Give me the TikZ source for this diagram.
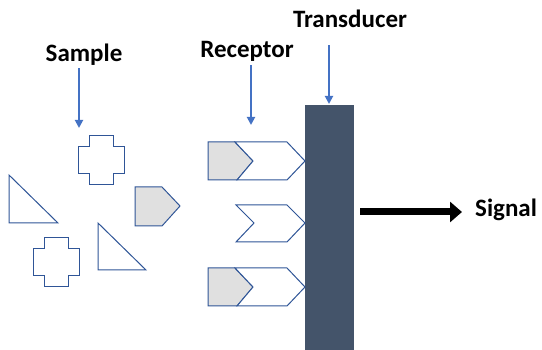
\documentclass[tikz,border=0pt]{standalone}
\usepackage{fontspec}
\setmainfont{Carlito}
\usetikzlibrary{arrows.meta}

\definecolor{edgeblue}{RGB}{47,85,151}
\definecolor{pointer}{RGB}{68,114,196}
\definecolor{slate}{RGB}{68,84,106}
\definecolor{lightfill}{RGB}{224,224,224}

\tikzset{
  label/.style={font=\fontsize{25}{28}\selectfont\bfseries,inner sep=0pt},
  outline/.style={draw=edgeblue,line width=1pt,line join=miter},
  pointer/.style={draw=pointer,line width=1.8pt,-{Triangle[length=8pt,width=8pt]}},
  plusshape/.pic={
    \draw[outline,fill=white] (-12,-24.5) -- (12,-24.5) -- (12,-13.5) -- (23,-13.5) -- (23,13.5)
      -- (12,13.5) -- (12,24.5) -- (-12,24.5) -- (-12,13.5) -- (-23,13.5) -- (-23,-13.5)
      -- (-12,-13.5) -- cycle;
  }
}

\begin{document}
\begin{tikzpicture}[x=1pt,y=-1pt]
  \useasboundingbox (0,0) rectangle (542,350);

  % labels
  \node[label,anchor=base] (sample) at (84,62) {Sample};
  \node[label,anchor=base] (receptor) at (247,58) {Receptor};
  \node[label,anchor=base] (translabel) at (350,28) {Transducer};
  \node[label,anchor=base west] (signal) at (475,217) {Signal};

  % transducer bar
  \node[fill=slate,inner sep=0pt,minimum width=49pt,minimum height=245pt,anchor=north west]
    (transducer) at (305,105) {};

  % sample molecules
  \pic at (101,160.5) {plusshape};
  \pic at (56.5,262.5) {plusshape};
  \draw[outline,fill=white] (9,175) -- (9,223) -- (58,223) -- cycle;
  \draw[outline,fill=white] (98,223) -- (98,270) -- (146,270) -- cycle;
  \draw[outline,fill=lightfill] (135,187) -- (162,187) -- (180,206) -- (162,226) -- (135,226) -- cycle;

  % receptors on the transducer surface
  \foreach \c in {161,287} {
    \draw[outline,fill=lightfill] (208,\c-19) -- (235,\c-19) -- (253,\c) -- (237,\c+19) -- (208,\c+19) -- cycle;
    \draw[outline,fill=white] (235,\c-19) -- (287,\c-19) -- (305,\c) -- (287,\c+19) -- (237,\c+19) -- (253,\c) -- cycle;
  }
  \draw[outline,fill=white] (236,205) -- (287,205) -- (305,223) -- (287,242) -- (236,242) -- (254,223) -- cycle;

  % pointers
  \coordinate (sampletip) at (79,128);
  \coordinate (receptortip) at (251,125);
  \coordinate (signalstart) at (360,212);
  \path (signal.west) ++(-13,0) coordinate (signalend);
  \draw[pointer,shorten <=2pt] (sample.south -| sampletip) -- (sampletip);
  \draw[pointer,shorten <=3pt] (receptor.south -| receptortip) -- (receptortip);
  \draw[pointer,shorten <=17pt,shorten >=1pt] ([xshift=-21pt]translabel.south) -- ([xshift=-21pt]translabel.south |- transducer.north);

  % output
  \draw[line width=7pt,-{Triangle[length=12pt,width=20pt]}] (signalstart) -- (signalstart -| signalend);
\end{tikzpicture}
\end{document}
